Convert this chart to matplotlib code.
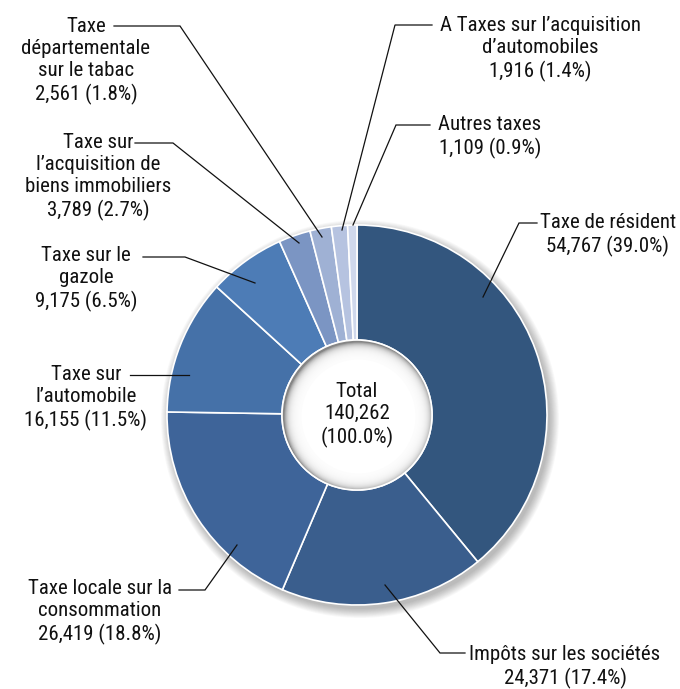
import matplotlib

matplotlib.use("Agg")
import matplotlib.pyplot as plt  # noqa: E402
import numpy as np  # noqa: E402
from matplotlib.patches import Circle  # noqa: E402

plt.rcParams["font.family"] = ["Roboto Condensed", "Archivo Narrow", "DejaVu Sans"]

# data, clockwise from 12 o'clock
names = [
    "Taxe de résident",
    "Impôts sur les sociétés",
    "Taxe locale sur la\nconsommation",
    "Taxe sur\nl’automobile",
    "Taxe sur le\ngazole",
    "Taxe sur\nl’acquisition de\nbiens immobiliers",
    "Taxe\ndépartementale\nsur le tabac",
    "A Taxes sur l’acquisition\nd’automobiles",
    "Autres taxes",
]
values = [54767, 24371, 26419, 16155, 9175, 3789, 2561, 1916, 1109]
shares = [39.0, 17.4, 18.8, 11.5, 6.5, 2.7, 1.8, 1.4, 0.9]
colors = ["#33567e", "#3a5e8d", "#3e6499", "#4571a8", "#4d7cb6",
          "#7b95c3", "#9fb1d4", "#b6c3e0", "#cfd8ec"]
total = 140262

W, H = 680, 689
CX, CY, R, R_IN = 357, H - 415, 190, 75

# label layout in pixels (top-left origin): text centre, leader start, corner, end on ring
label_pos = [(608, 235), (565, 667), (100, 612), (86, 398), (86, 279),
             (98, 177), (86, 61), (540, 49), (490, 137)]
lead_start = [(537, 223), (465, 653), (179, 590), (130, 375), (143, 257),
              (135, 143), (114, 26), (432, 25), (430, 125)]
corner = [(519, 223), (440, 653), (205, 590), (150, 375), (185, 257),
          (173, 143), (180, 26), (395, 25), (396, 125)]
anchor = [(483, 297), (385, 585), (237, 545), (189, 375), (255, 283),
          (299, 243), (322, 237), (342, 230), (353, 225)]

fig = plt.figure(figsize=(W / 100, H / 100), dpi=100)
ax = fig.add_axes([0, 0, 1, 1])

# soft drop shadow behind the ring
for r in np.linspace(R + 9, R, 12):
    ax.add_patch(Circle((CX + 3, CY - 4), r, color="#000000", alpha=0.025, lw=0, zorder=0))

ax.pie(values, colors=colors, startangle=90, counterclock=False, radius=R,
       center=(CX, CY), wedgeprops=dict(width=R - R_IN, edgecolor="white", linewidth=1.2))
for w in ax.patches[-len(values):]:
    w.set_zorder(1)

# recessed centre
ax.add_patch(Circle((CX, CY), R_IN, color="#858585", lw=0, zorder=2))
for r in np.linspace(R_IN - 1, R_IN - 18, 18):
    ax.add_patch(Circle((CX + 1.5, CY - 1.5), r, color="white", alpha=0.25, lw=0, zorder=3))
ax.add_patch(Circle((CX + 1.5, CY - 1.5), R_IN - 18, color="white", lw=0, zorder=3))
ax.add_patch(Circle((CX, CY), R_IN, fill=False, ec="white", lw=1.2, zorder=4))

ax.text(CX, CY, f"Total\n{total:,}\n(100.0%)", ha="center", va="center",
        fontsize=15, color="#111111", linespacing=1.2, zorder=5)

for i, name in enumerate(names):
    lx, ly = label_pos[i]
    txt = f"{name}\n{values[i]:,} ({shares[i]:.1f}%)"
    ax.text(lx, H - ly, txt, ha="center", va="center", fontsize=15,
            color="#111111", linespacing=1.2)
    sx, sy = lead_start[i]
    ex, ey = corner[i]
    px, py = anchor[i]
    ax.plot([sx, ex, px], [H - sy, H - ey, H - py], color="#111111", lw=0.9,
            solid_joinstyle="miter", zorder=6)

ax.set_xlim(0, W)
ax.set_ylim(0, H)
ax.set_aspect("equal")
ax.axis("off")

fig.savefig("out.png", dpi=100)
